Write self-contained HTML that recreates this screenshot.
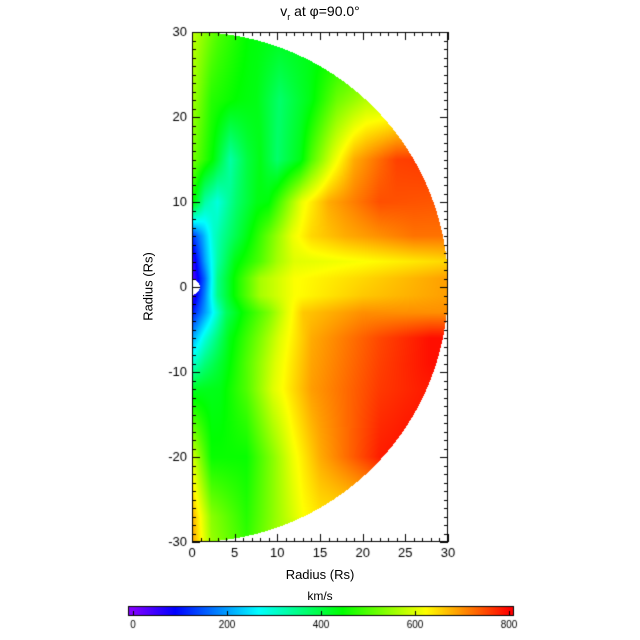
<!DOCTYPE html>
<html><head><meta charset="utf-8"><style>
html,body{margin:0;padding:0;background:#fff;}
#wrap{position:relative;width:640px;height:640px;overflow:hidden;font-family:"Liberation Sans","DejaVu Sans",sans-serif;color:#000;}
canvas{position:absolute;left:0;top:0;}
.t{position:absolute;font-size:13px;line-height:13px;white-space:nowrap;}
</style></head><body><div id="wrap">
<canvas id="c" width="640" height="640"></canvas>
<div class="t" style="left:0;width:640px;text-align:center;top:5px;font-size:14px;">v<sub style="font-size:9px">r</sub> at &#966;=90.0&#176;</div>
<div class="t" style="left:0;width:640px;text-align:center;top:568px;font-size:13px;">Radius (Rs)</div>
<div class="t" style="left:108px;top:280px;transform:rotate(-90deg);transform-origin:center;width:80px;text-align:center;">Radius (Rs)</div>
<div class="t" style="left:0;width:640px;text-align:center;top:590px;font-size:12px;">km/s</div>
</div>
<script>
const cv=document.getElementById('c'),ctx=cv.getContext('2d');
const X0=192,X1=448,Y0=32,Y1=542,YC=287,sx=(X1-X0)/30,sy=(Y1-Y0)/60;
const rows=[
[30,[[0,580],[3,500],[6.8,440],[10,430]]],
[22,[[0,560],[2.3,470],[5.6,440],[7.6,430],[10.3,370],[13.8,430],[17,520],[20.4,570]]],
[15,[[0,530],[2.5,440],[4.5,330],[6.5,400],[8,430],[10,370],[12.7,430],[14,500],[16.5,600],[19,680],[24,755],[27,760]]],
[10,[[0,460],[1.5,330],[3,290],[5.2,370],[7.6,430],[9,440],[11.5,550],[12.9,610],[16,680],[22,745],[28,740]]],
[6,[[0,120],[1.2,200],[2.5,300],[3.5,340],[6.4,430],[10.3,560],[11.8,610],[14,650],[18,680],[26,720],[30,720]]],
[3,[[0,40],[1.5,200],[3,330],[5,430],[8,500],[10,560],[12,600],[20,620],[30,650]]],
[1,[[0,20],[1.5,160],[3,350],[5,450],[8,560],[12,620],[20,650],[30,690]]],
[-1,[[0,40],[1.5,180],[3,350],[5,450],[8,560],[12,620],[20,660],[30,690]]],
[-3,[[0,100],[2,230],[4,380],[6,450],[9,530],[11,600],[13,660],[20,700],[30,700]]],
[-6,[[0,200],[1.5,290],[4.4,430],[8.3,540],[10.3,600],[14,680],[22,750],[28,790],[30,790]]],
[-9,[[0,300],[1.5,360],[4,430],[9.8,600],[14,685],[22,755],[28,790]]],
[-12,[[0,420],[3.3,430],[6.4,500],[9.5,600],[14,690],[22,760],[27,780]]],
[-20,[[0,600],[1.2,520],[2.3,450],[6.4,450],[9.5,540],[11.8,610],[15,680],[22,780],[25,790]]],
[-27,[[0,680],[1,620],[2.3,540],[6.4,470],[10.3,560],[13,620],[15,640]]],
[-30,[[0,690],[1,630],[2.3,550],[6.4,480],[10,560]]]
];
function rv(pts,x){if(x<=pts[0][0])return pts[0][1];for(let i=1;i<pts.length;i++){if(x<=pts[i][0]){const a=pts[i-1],b=pts[i];return a[1]+(b[1]-a[1])*(x-a[0])/(b[0]-a[0]);}}return pts[pts.length-1][1];}
function val(x,y){for(let i=1;i<rows.length;i++){if(y>=rows[i][0]){const a=rows[i-1],b=rows[i];const t=(y-b[0])/(a[0]-b[0]);return rv(b[1],x)*(1-t)+rv(a[1],x)*t;}}return rv(rows[rows.length-1][1],x);}
function hsv(h){h=((h%360)+360)%360;const c=255,X=c*(1-Math.abs((h/60)%2-1));let r,g,b;
if(h<60){r=c;g=X;b=0}else if(h<120){r=X;g=c;b=0}else if(h<180){r=0;g=c;b=X}else if(h<240){r=0;g=X;b=c}else if(h<300){r=X;g=0;b=c}else{r=c;g=0;b=X}return [r,g,b];}
function col(v){v=Math.max(0,Math.min(800,v));return hsv(270*(1-v/800));}
const img=ctx.createImageData(640,640);const d=img.data;
for(let i=0;i<d.length;i+=4){d[i]=d[i+1]=d[i+2]=255;d[i+3]=255;}
for(let py=Y0;py<Y1;py++)for(let px=X0;px<X1;px++){const x=(px+0.5-X0)/sx,y=(YC-py-0.5)/sy;const r=Math.hypot(x,y);if(r>30||r<0.9)continue;const c=col(val(x,y));const k=(py*640+px)*4;d[k]=c[0];d[k+1]=c[1];d[k+2]=c[2];}
for(let px=129;px<513;px++){const v=(px-133)/(509-133)*800;const c=col(v);for(let py=607;py<615;py++){const k=(py*640+px)*4;d[k]=c[0];d[k+1]=c[1];d[k+2]=c[2];}}
ctx.putImageData(img,0,0);
ctx.strokeStyle='#000';ctx.lineWidth=1;
ctx.strokeRect(X0+0.5,Y0+0.5,X1-X0-1,Y1-Y0-1);
ctx.strokeRect(128.5,606.5,385,9);
ctx.beginPath();
for(let u=0;u<=30;u++){const px=Math.round(X0+u*sx)+0.5;const L=u%5==0?8:4;ctx.moveTo(px,Y1);ctx.lineTo(px,Y1-L);ctx.moveTo(px,Y0);ctx.lineTo(px,Y0+L);}
for(let u=-30;u<=30;u++){const py=Math.round(YC-u*sy)+0.5;const L=u%10==0?8:4;ctx.moveTo(X0,py);ctx.lineTo(X0+L,py);ctx.moveTo(X1,py);ctx.lineTo(X1-L,py);}
for(let v=0;v<=800;v+=200){const px=Math.round(133+v*(376/800))+0.5;ctx.moveTo(px,615);ctx.lineTo(px,611);}
ctx.stroke();
ctx.fillStyle='#000';ctx.font='13px "Liberation Sans", sans-serif';
ctx.textAlign='center';ctx.textBaseline='top';
for(let u=0;u<=30;u+=5)ctx.fillText(String(u),X0+u*sx,547);
ctx.textAlign='right';ctx.textBaseline='middle';
for(let u=-30;u<=30;u+=10)ctx.fillText(String(u),187,YC-u*sy);
ctx.font='10px "Liberation Sans", sans-serif';ctx.textAlign='center';ctx.textBaseline='top';
for(let v=0;v<=800;v+=200)ctx.fillText(String(v),133+v*376/800,620);
</script></body></html>
